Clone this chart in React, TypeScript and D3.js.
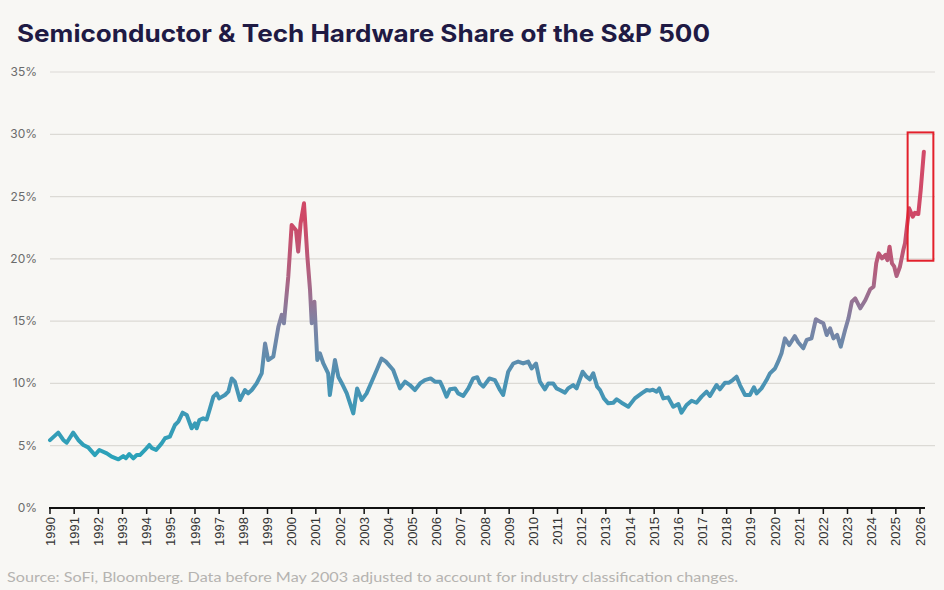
import React, { useEffect, useRef } from "react";
import * as d3 from "d3";

const WIDTH = 944;
const HEIGHT = 590;

// decimal year of each reading
const dates = [
  1990.0, 1990.34, 1990.55, 1990.69, 1990.96, 1991.17, 1991.38, 1991.58, 1991.86, 1992.04,
  1992.35, 1992.55, 1992.83, 1993.03, 1993.14, 1993.28, 1993.45, 1993.59, 1993.72, 1993.93,
  1994.11, 1994.22, 1994.39, 1994.62, 1994.76, 1994.96, 1995.17, 1995.31, 1995.49, 1995.66,
  1995.86, 1996.0, 1996.07, 1996.18, 1996.34, 1996.48, 1996.62, 1996.76, 1996.9, 1997.0,
  1997.24, 1997.38, 1997.52, 1997.65, 1997.86, 1998.07, 1998.2, 1998.35, 1998.55, 1998.76,
  1998.9, 1999.03, 1999.24, 1999.45, 1999.59, 1999.68, 1999.86, 2000.0, 2000.18, 2000.27,
  2000.37, 2000.51, 2000.65, 2000.76, 2000.83, 2000.94, 2001.06, 2001.17, 2001.31, 2001.51,
  2001.58, 2001.79, 2001.93, 2002.08, 2002.28, 2002.55, 2002.71, 2002.9, 2003.1, 2003.31,
  2003.52, 2003.72, 2003.9, 2004.2, 2004.48, 2004.69, 2004.89, 2005.1, 2005.31, 2005.51,
  2005.75, 2005.93, 2006.14, 2006.27, 2006.41, 2006.55, 2006.76, 2006.89, 2007.1, 2007.31,
  2007.51, 2007.68, 2007.79, 2007.93, 2008.18, 2008.41, 2008.62, 2008.75, 2008.96, 2009.17,
  2009.37, 2009.58, 2009.79, 2009.93, 2010.11, 2010.27, 2010.48, 2010.62, 2010.82, 2010.96,
  2011.1, 2011.31, 2011.44, 2011.65, 2011.79, 2012.04, 2012.2, 2012.34, 2012.48, 2012.64,
  2012.76, 2012.92, 2013.1, 2013.31, 2013.45, 2013.65, 2013.93, 2014.2, 2014.48, 2014.69,
  2014.82, 2014.95, 2015.1, 2015.21, 2015.38, 2015.58, 2015.79, 2016.0, 2016.13, 2016.34,
  2016.55, 2016.75, 2016.96, 2017.17, 2017.31, 2017.58, 2017.72, 2017.93, 2018.1, 2018.25,
  2018.41, 2018.55, 2018.76, 2018.96, 2019.13, 2019.24, 2019.44, 2019.65, 2019.79, 2020.0,
  2020.13, 2020.27, 2020.41, 2020.59, 2020.82, 2020.96, 2021.17, 2021.31, 2021.51, 2021.69,
  2021.86, 2022.0, 2022.14, 2022.28, 2022.42, 2022.57, 2022.72, 2022.9, 2023.04, 2023.18,
  2023.32, 2023.53, 2023.74, 2023.94, 2024.08, 2024.19, 2024.29, 2024.43, 2024.57, 2024.65,
  2024.74, 2024.84, 2024.93, 2025.03, 2025.17, 2025.31, 2025.38, 2025.55, 2025.7, 2025.79,
  2025.93, 2026.03, 2026.16,
];

// share of the S&P 500, percent
const shares = [
  5.45, 6.05, 5.46, 5.24, 6.05, 5.46, 5.06, 4.87, 4.25, 4.66,
  4.39, 4.12, 3.91, 4.17, 4.0, 4.33, 3.99, 4.25, 4.25, 4.66,
  5.06, 4.8, 4.66, 5.19, 5.6, 5.73, 6.66, 6.93, 7.65, 7.47,
  6.4, 6.8, 6.4, 7.06, 7.2, 7.1, 8.0, 8.94, 9.2, 8.8,
  9.07, 9.34, 10.4, 10.14, 8.67, 9.47, 9.2, 9.47, 10.0, 10.8,
  13.2, 11.88, 12.15, 14.55, 15.5, 14.83, 18.57, 22.72, 22.3, 20.58,
  22.85, 24.46, 20.17, 17.5, 14.83, 16.56, 11.88, 12.42, 11.6, 10.8,
  9.07, 11.88, 10.54, 10.0, 9.2, 7.6, 9.6, 8.67, 9.2, 10.14,
  11.08, 12.0, 11.75, 11.08, 9.6, 10.14, 9.87, 9.47, 10.0, 10.27,
  10.4, 10.14, 10.14, 9.6, 8.94, 9.53, 9.6, 9.2, 9.0, 9.6,
  10.4, 10.5, 10.0, 9.74, 10.4, 10.27, 9.47, 9.07, 10.94, 11.6,
  11.75, 11.6, 11.75, 11.2, 11.6, 10.14, 9.53, 10.0, 10.0, 9.6,
  9.47, 9.26, 9.6, 9.87, 9.6, 10.94, 10.54, 10.33, 10.81, 9.74,
  9.47, 8.8, 8.4, 8.45, 8.73, 8.45, 8.13, 8.8, 9.2, 9.47,
  9.42, 9.5, 9.34, 9.6, 8.8, 8.88, 8.13, 8.35, 7.65, 8.27,
  8.61, 8.45, 8.94, 9.34, 9.0, 9.87, 9.53, 10.06, 10.06, 10.27,
  10.54, 9.87, 9.07, 9.07, 9.69, 9.2, 9.6, 10.27, 10.81, 11.2,
  11.75, 12.42, 13.62, 13.08, 13.8, 13.3, 12.82, 13.49, 13.62, 15.15,
  14.96, 14.83, 13.89, 14.42, 13.62, 13.9, 12.95, 14.29, 15.23, 16.56,
  16.83, 16.03, 16.7, 17.56, 17.77, 19.64, 20.44, 20.04, 20.31, 19.9,
  20.98, 19.64, 19.4, 18.62, 19.37, 20.71, 21.25, 24.06, 23.38, 23.7,
  23.6, 25.53, 28.6,
];

const yTicks = [0, 5, 10, 15, 20, 25, 30, 35];
const years = d3.range(1990, 2027);

// the recent run-up that gets boxed
const highlightFrom = 2025.55;
const highlightTo = 2026.16;
const highlightLow = 19.85;
const highlightHigh = 30.15;

function App() {
  const ref = useRef<SVGSVGElement | null>(null);

  useEffect(() => {
    const svg = d3.select(ref.current);
    svg.selectAll("*").remove();

    const x = d3.scaleLinear().domain([1990, 2026]).range([50, 920]);
    const y = d3.scaleLinear().domain([0, 35]).range([508, 72]);

    svg.append("rect")
      .attr("width", WIDTH)
      .attr("height", HEIGHT)
      .attr("fill", "#f8f7f4");

    svg.append("text")
      .attr("x", 17)
      .attr("y", 42)
      .attr("font-family", "Inter, sans-serif")
      .attr("font-weight", 700)
      .attr("font-size", 24)
      .attr("fill", "#1f1a44")
      .attr("textLength", 693)
      .attr("lengthAdjust", "spacingAndGlyphs")
      .text("Semiconductor & Tech Hardware Share of the S&P 500");

    // gridlines + y labels
    const grid = svg.append("g");
    grid.selectAll("line")
      .data(yTicks.filter((d) => d > 0))
      .join("line")
      .attr("x1", 50)
      .attr("x2", 935)
      .attr("y1", (d) => y(d))
      .attr("y2", (d) => y(d))
      .attr("stroke", "#dcdad5")
      .attr("stroke-width", 1.2);
    grid.selectAll("text")
      .data(yTicks)
      .join("text")
      .attr("x", 37)
      .attr("y", (d) => y(d) + 4)
      .attr("text-anchor", "end")
      .attr("font-family", "Inter, sans-serif")
      .attr("font-size", 12)
      .attr("fill", "#6b6b6b")
      .text((d) => d + "%");

    // colour follows the level of the line
    const grad = svg.append("defs").append("linearGradient")
      .attr("id", "shareGrad")
      .attr("gradientUnits", "userSpaceOnUse")
      .attr("x1", 0).attr("x2", 0)
      .attr("y1", y(4)).attr("y2", y(28));
    const stops: [number, string][] = [
      [0, "#2aa2b9"],
      [0.25, "#4a93b4"],
      [0.45, "#7e83a4"],
      [0.62, "#b2607f"],
      [0.8, "#cf4866"],
      [1, "#d24b69"],
    ];
    grad.selectAll("stop")
      .data(stops)
      .join("stop")
      .attr("offset", (d) => d[0])
      .attr("stop-color", (d) => d[1]);

    const points = dates.map((d, i) => [d, shares[i]] as [number, number]);
    const line = d3.line<[number, number]>()
      .x((d) => x(d[0]))
      .y((d) => y(d[1]));

    svg.append("path")
      .datum(points)
      .attr("d", line)
      .attr("fill", "none")
      .attr("stroke", "url(#shareGrad)")
      .attr("stroke-width", 4)
      .attr("stroke-linejoin", "round")
      .attr("stroke-linecap", "round");

    // x axis
    const axis = svg.append("g");
    axis.append("line")
      .attr("x1", 49)
      .attr("x2", 925)
      .attr("y1", 508)
      .attr("y2", 508)
      .attr("stroke", "#111")
      .attr("stroke-width", 2);
    axis.selectAll("line.tick")
      .data(years)
      .join("line")
      .attr("class", "tick")
      .attr("x1", (d) => x(d))
      .attr("x2", (d) => x(d))
      .attr("y1", 508)
      .attr("y2", 514)
      .attr("stroke", "#111")
      .attr("stroke-width", 1.5);
    axis.selectAll("text")
      .data(years)
      .join("text")
      .attr("transform", (d) => `translate(${x(d) + 4.5},517) rotate(-90)`)
      .attr("text-anchor", "end")
      .attr("font-family", "'Liberation Sans', Arial, sans-serif")
      .attr("font-size", 13)
      .attr("fill", "#333")
      .text((d) => d);

    svg.append("rect")
      .attr("x", x(highlightFrom) - 1.5)
      .attr("y", y(highlightHigh))
      .attr("width", x(highlightTo) - x(highlightFrom) + 11)
      .attr("height", y(highlightLow) - y(highlightHigh))
      .attr("fill", "none")
      .attr("stroke", "#e3202b")
      .attr("stroke-width", 2);

    svg.append("text")
      .attr("x", 7)
      .attr("y", 582)
      .attr("font-family", "Lato, sans-serif")
      .attr("font-size", 13.5)
      .attr("fill", "#b5b3b0")
      .attr("textLength", 731)
      .attr("lengthAdjust", "spacingAndGlyphs")
      .text("Source: SoFi, Bloomberg. Data before May 2003 adjusted to account for industry classification changes.");
  }, []);

  return (
    <svg
      ref={ref}
      width={WIDTH}
      height={HEIGHT}
      style={{ position: "absolute", left: 0, top: 0, display: "block" }}
    />
  );
}

export default App;
